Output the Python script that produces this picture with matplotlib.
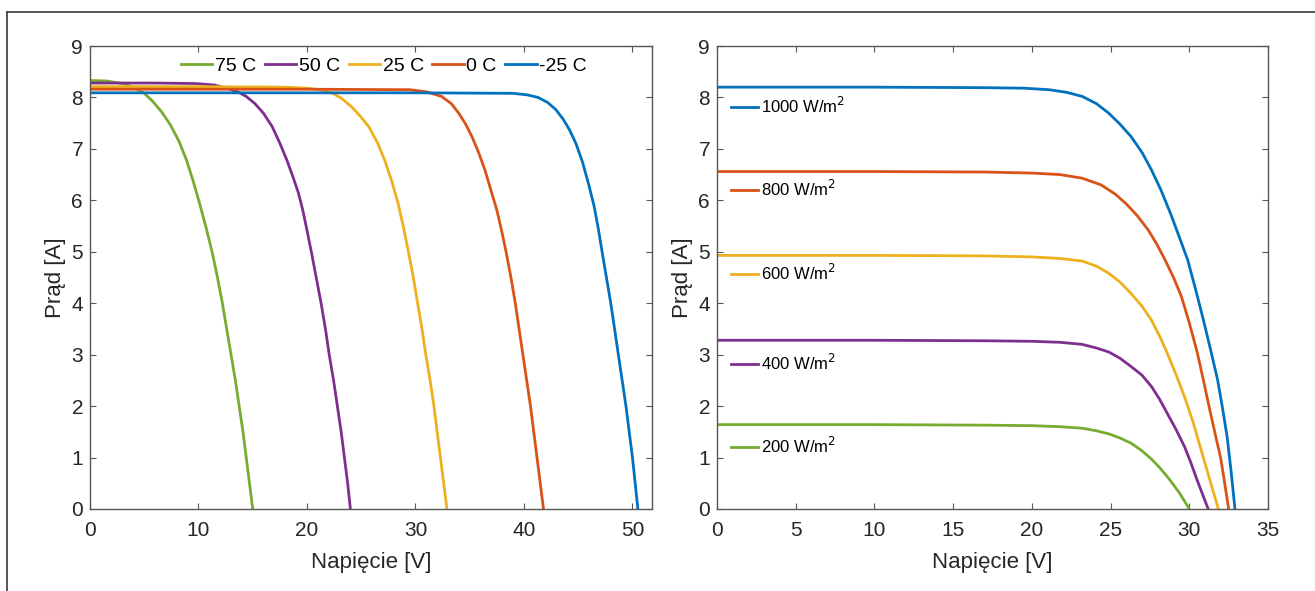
import matplotlib
matplotlib.use("Agg")
import matplotlib.pyplot as plt
from matplotlib.lines import Line2D
from matplotlib.legend import Legend

plt.rcParams['font.family'] = ['Liberation Sans', 'DejaVu Sans']

# ---------------- Left panel: temperature ----------------
temp_labels = ["75 C", "50 C", "25 C", "0 C", "-25 C"]
temp_colors = ["#77AC30", "#7E2F8E", "#EDB120", "#D95319", "#0072BD"]

v_75 = [0, 1.5, 3.0, 4.0, 5.0, 5.8, 6.6, 7.4, 8.2, 8.9, 9.5, 10.1, 10.7, 11.25,
        11.75, 12.2, 12.6, 13.0, 13.4, 13.75, 14.1, 14.4, 14.7, 15.0]
i_75 = [8.33, 8.32, 8.27, 8.2, 8.08, 7.92, 7.72, 7.47, 7.15, 6.78, 6.38, 5.94, 5.47, 5.0,
        4.5, 4.0, 3.5, 3.0, 2.5, 2.0, 1.5, 1.0, 0.5, 0.0]

v_50 = [0, 6, 9.8, 11.5, 12.6, 13.6, 14.4, 15.2, 16.0, 16.8, 17.5, 18.15, 18.7, 19.2,
        19.6, 20.0, 20.4, 20.85, 21.3, 21.7, 22.05, 22.45, 22.8, 23.15, 23.45, 23.75, 24.0]
i_50 = [8.28, 8.28, 8.27, 8.24, 8.18, 8.11, 8.02, 7.88, 7.69, 7.43, 7.11, 6.78, 6.46, 6.15,
        5.82, 5.42, 5.0, 4.5, 4.0, 3.5, 3.0, 2.5, 2.0, 1.5, 1.0, 0.5, 0.0]

v_25 = [0, 10, 18, 20, 21.2, 22.3, 23.2, 24.1, 24.9, 25.7, 26.5, 27.2, 27.8, 28.4, 28.9,
        29.35, 29.8, 30.2, 30.6, 30.95, 31.35, 31.7, 32.0, 32.3, 32.6, 32.9]
i_25 = [8.21, 8.21, 8.2, 8.18, 8.15, 8.09, 7.98, 7.82, 7.64, 7.43, 7.12, 6.76, 6.38, 5.94, 5.47,
        5.0, 4.5, 4.0, 3.5, 3.0, 2.5, 2.0, 1.5, 1.0, 0.5, 0.0]

v_0 = [0, 20, 29.5, 31.0, 32.4, 33.3, 34.0, 34.6, 35.2, 35.8, 36.4, 36.95, 37.5, 37.95,
       38.35, 38.8, 39.2, 39.55, 39.9, 40.25, 40.6, 40.9, 41.2, 41.5, 41.8]
i_0 = [8.16, 8.16, 8.15, 8.11, 8.02, 7.88, 7.69, 7.49, 7.24, 6.94, 6.59, 6.2, 5.81, 5.4,
       5.0, 4.5, 4.0, 3.5, 3.0, 2.5, 2.0, 1.5, 1.0, 0.5, 0.0]

v_m25 = [0, 30, 39.0, 40.3, 41.3, 42.2, 42.95, 43.6, 44.2, 44.8, 45.4, 45.95, 46.45, 46.85,
         47.2, 47.6, 48.0, 48.35, 48.7, 49.05, 49.4, 49.7, 50.0, 50.25, 50.5]
i_m25 = [8.09, 8.09, 8.08, 8.05, 8.0, 7.9, 7.76, 7.58, 7.37, 7.1, 6.74, 6.32, 5.9, 5.45,
         5.0, 4.5, 4.0, 3.5, 3.0, 2.5, 2.0, 1.5, 1.0, 0.5, 0.0]

temp_v = [v_75, v_50, v_25, v_0, v_m25]
temp_i = [i_75, i_50, i_25, i_0, i_m25]

# ---------------- Right panel: irradiance ----------------
irr_labels = ["1000 W/m$^2$", "800 W/m$^2$", "600 W/m$^2$", "400 W/m$^2$", "200 W/m$^2$"]
irr_colors = ["#0072BD", "#D95319", "#EDB120", "#7E2F8E", "#77AC30"]

v_1000 = [0, 10, 17, 19.5, 21.1, 22.2, 23.2, 24.1, 24.9, 25.6, 26.3, 27.0, 27.6, 28.2,
          28.8, 29.35, 29.9, 30.4, 30.9, 31.35, 31.8, 32.1, 32.4, 32.65, 32.9]
i_1000 = [8.2, 8.2, 8.19, 8.18, 8.15, 8.1, 8.02, 7.88, 7.69, 7.48, 7.24, 6.93, 6.59, 6.2,
          5.75, 5.3, 4.84, 4.27, 3.67, 3.1, 2.51, 1.98, 1.41, 0.75, 0.0]

v_800 = [0, 10, 17, 20, 21.8, 23.2, 24.4, 25.3, 26.0, 26.7, 27.4, 27.95, 28.45, 29.0,
         29.5, 30.0, 30.5, 30.9, 31.3, 31.65, 32.0, 32.25, 32.5]
i_800 = [6.56, 6.56, 6.55, 6.53, 6.5, 6.43, 6.3, 6.12, 5.93, 5.7, 5.42, 5.14, 4.85, 4.5,
         4.13, 3.62, 3.05, 2.5, 1.93, 1.45, 0.98, 0.5, 0.0]

v_600 = [0, 10, 17, 20, 21.8, 23.2, 24.1, 24.9, 25.6, 26.3, 27.0, 27.6, 28.1, 28.6,
         29.15, 29.7, 30.25, 30.75, 31.3, 31.85]
i_600 = [4.93, 4.93, 4.92, 4.9, 4.87, 4.82, 4.72, 4.58, 4.41, 4.19, 3.94, 3.67, 3.37, 3.03,
         2.62, 2.18, 1.68, 1.15, 0.57, 0.0]

v_400 = [0, 10, 17, 20, 21.8, 23.2, 24.1, 24.9, 25.6, 26.3, 27.0, 27.6, 28.1, 28.6,
         29.15, 29.7, 30.1, 30.5, 30.85, 31.2]
i_400 = [3.28, 3.28, 3.27, 3.26, 3.24, 3.2, 3.13, 3.05, 2.93, 2.77, 2.6, 2.38, 2.14, 1.86,
         1.55, 1.21, 0.9, 0.56, 0.28, 0.0]

v_200 = [0, 10, 17, 20, 21.8, 23.2, 24.1, 24.9, 25.6, 26.3, 27.0, 27.6, 28.1, 28.6,
         29.0, 29.4, 29.7, 30.0]
i_200 = [1.64, 1.64, 1.63, 1.62, 1.6, 1.57, 1.52, 1.46, 1.38, 1.28, 1.13, 0.97, 0.81, 0.63,
         0.47, 0.3, 0.15, 0.0]

irr_v = [v_1000, v_800, v_600, v_400, v_200]
irr_i = [i_1000, i_800, i_600, i_400, i_200]

left_xticks = [0, 10, 20, 30, 40, 50]
right_xticks = [0, 5, 10, 15, 20, 25, 30, 35]
yticks = [0, 1, 2, 3, 4, 5, 6, 7, 8, 9]

W, H = 1315, 591
fig = plt.figure(figsize=(W / 100, H / 100), dpi=100)
fig.patch.set_facecolor("white")

axL = fig.add_axes([90 / W, 1 - 509 / H, (652 - 90) / W, (509 - 46) / H])
axR = fig.add_axes([717 / W, 1 - 509 / H, (1268 - 717) / W, (509 - 46) / H])

spine_col = "#5a5656"
text_col = "#262626"
lw = 2.0


def style(ax, xlim, xticks):
    ax.set_xlim(*xlim)
    ax.set_ylim(0, 9)
    ax.set_xticks(xticks)
    ax.set_yticks(yticks)
    ax.tick_params(direction="in", top=True, right=True, length=4, width=0.8,
                   colors=spine_col, labelcolor=text_col, labelsize=15)
    ax.tick_params(axis="x", pad=9)
    ax.tick_params(axis="y", pad=5)
    for s in ax.spines.values():
        s.set_color(spine_col)
        s.set_linewidth(1.0)
    ax.set_xlabel("Napięcie [V]", fontsize=16, color=text_col, labelpad=8)
    ax.set_ylabel("Prąd [A]", fontsize=16, color=text_col, labelpad=4)


lines = []
for v, i, c, lab in zip(temp_v, temp_i, temp_colors, temp_labels):
    ln, = axL.plot(v, i, color=c, lw=lw, label=lab)
    lines.append(ln)
style(axL, (0, 51.8), left_xticks)
axL.legend(handles=lines, loc="center", bbox_to_anchor=(0.523, 0.957), ncol=5,
           frameon=False, fontsize=14, handlelength=1.6, handletextpad=0.15,
           columnspacing=0.45, borderaxespad=0)

y_pos = [0.870, 0.691, 0.510, 0.315, 0.136]
for v, i, c, lab, yp in zip(irr_v, irr_i, irr_colors, irr_labels, y_pos):
    ln, = axR.plot(v, i, color=c, lw=lw)
    lg = Legend(axR, [ln], [lab], loc="center left", bbox_to_anchor=(0.02, yp),
                frameon=False, fontsize=12, handlelength=1.6, handletextpad=0.15,
                borderaxespad=0, borderpad=0.2)
    axR.add_artist(lg)
style(axR, (0, 35), right_xticks)

# outer frame (top and left edges)
fig.add_artist(Line2D([7 / W, 1.0], [1 - 12 / H, 1 - 12 / H], color="#3a3a3a", lw=1.2))
fig.add_artist(Line2D([7 / W, 7 / W], [0, 1 - 12 / H], color="#3a3a3a", lw=1.2))

fig.savefig("out.png", dpi=100, facecolor="white")
